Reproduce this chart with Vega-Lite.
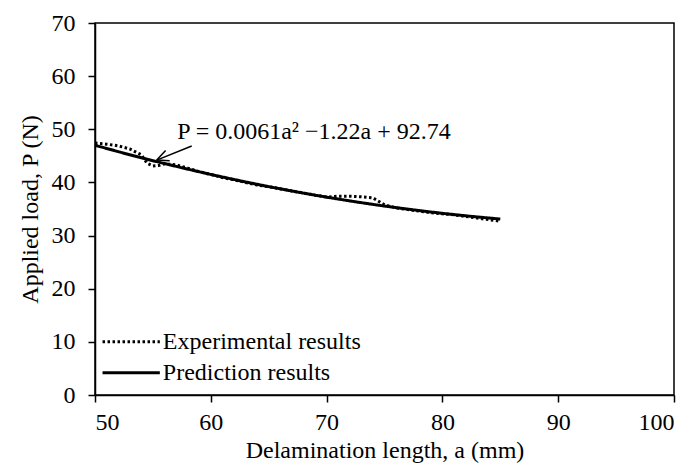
{
  "$schema": "https://vega.github.io/schema/vega-lite/v6.json",
  "width": 579,
  "height": 372,
  "autosize": "none",
  "padding": {"left": 95, "top": 23, "right": 18, "bottom": 71},
  "background": "white",
  "config": {
    "font": "Liberation Serif",
    "view": {"stroke": "black", "strokeWidth": 1.5},
    "axis": {
      "domainColor": "black", "domainWidth": 1.5, "tickColor": "black", "tickWidth": 1.5,
      "tickSize": 7, "grid": false, "labelFont": "Liberation Serif", "labelFontSize": 24,
      "labelColor": "black", "titleFont": "Liberation Serif", "titleFontSize": 24,
      "titleFontWeight": "normal", "titleColor": "black"
    }
  },
  "datasets": {
    "curves": [
      {"a": 50, "P": 47.4, "series": "Experimental results"},
      {"a": 51, "P": 47.2, "series": "Experimental results"},
      {"a": 52, "P": 46.9, "series": "Experimental results"},
      {"a": 53, "P": 46.3, "series": "Experimental results"},
      {"a": 54, "P": 45.2, "series": "Experimental results"},
      {"a": 54.5, "P": 43.6, "series": "Experimental results"},
      {"a": 55, "P": 43.1, "series": "Experimental results"},
      {"a": 55.5, "P": 43.2, "series": "Experimental results"},
      {"a": 56, "P": 43.5, "series": "Experimental results"},
      {"a": 57, "P": 43.3, "series": "Experimental results"},
      {"a": 58, "P": 42.7, "series": "Experimental results"},
      {"a": 59, "P": 42.0, "series": "Experimental results"},
      {"a": 60, "P": 41.5, "series": "Experimental results"},
      {"a": 61, "P": 40.9, "series": "Experimental results"},
      {"a": 62, "P": 40.5, "series": "Experimental results"},
      {"a": 63, "P": 40.0, "series": "Experimental results"},
      {"a": 64, "P": 39.5, "series": "Experimental results"},
      {"a": 65, "P": 39.2, "series": "Experimental results"},
      {"a": 66, "P": 38.8, "series": "Experimental results"},
      {"a": 67, "P": 38.4, "series": "Experimental results"},
      {"a": 68, "P": 38.0, "series": "Experimental results"},
      {"a": 69, "P": 37.6, "series": "Experimental results"},
      {"a": 70, "P": 37.25, "series": "Experimental results"},
      {"a": 71, "P": 37.4, "series": "Experimental results"},
      {"a": 72, "P": 37.4, "series": "Experimental results"},
      {"a": 73, "P": 37.3, "series": "Experimental results"},
      {"a": 74, "P": 37.1, "series": "Experimental results"},
      {"a": 75, "P": 35.8, "series": "Experimental results"},
      {"a": 76, "P": 35.2, "series": "Experimental results"},
      {"a": 77, "P": 34.9, "series": "Experimental results"},
      {"a": 78, "P": 34.6, "series": "Experimental results"},
      {"a": 79, "P": 34.3, "series": "Experimental results"},
      {"a": 80, "P": 34.1, "series": "Experimental results"},
      {"a": 81, "P": 33.9, "series": "Experimental results"},
      {"a": 82, "P": 33.6, "series": "Experimental results"},
      {"a": 83, "P": 33.3, "series": "Experimental results"},
      {"a": 84, "P": 33.0, "series": "Experimental results"},
      {"a": 85, "P": 32.7, "series": "Experimental results"},
      {"a": 50, "P": 46.99, "series": "Prediction results"},
      {"a": 52.5, "P": 45.5, "series": "Prediction results"},
      {"a": 55, "P": 44.09, "series": "Prediction results"},
      {"a": 57.5, "P": 42.76, "series": "Prediction results"},
      {"a": 60, "P": 41.5, "series": "Prediction results"},
      {"a": 62.5, "P": 40.32, "series": "Prediction results"},
      {"a": 65, "P": 39.21, "series": "Prediction results"},
      {"a": 67.5, "P": 38.18, "series": "Prediction results"},
      {"a": 70, "P": 37.23, "series": "Prediction results"},
      {"a": 72.5, "P": 36.35, "series": "Prediction results"},
      {"a": 75, "P": 35.55, "series": "Prediction results"},
      {"a": 77.5, "P": 34.83, "series": "Prediction results"},
      {"a": 80, "P": 34.18, "series": "Prediction results"},
      {"a": 82.5, "P": 33.61, "series": "Prediction results"},
      {"a": 85, "P": 33.11, "series": "Prediction results"}
    ],
    "legendrows": [
      {"a": 50.65, "a2": 55.6, "P": 10.0, "series": "Experimental results"},
      {"a": 50.65, "a2": 55.6, "P": 4.2, "series": "Prediction results"}
    ],
    "note": [
      {"a": 57.1, "P": 49.5, "label": "P = 0.0061a² −1.22a + 92.74"}
    ],
    "arrow": [
      {"a": 58.35, "P": 46.86, "a2": 55.33, "P2": 44.2},
      {"a": 55.33, "P": 44.2, "a2": 56.45, "P2": 44.09},
      {"a": 55.33, "P": 44.2, "a2": 56.1, "P2": 46.0}
    ]
  },
  "layer": [
    {
      "data": {"name": "curves"},
      "mark": {"type": "line", "strokeWidth": 3, "strokeCap": "butt", "color": "black"},
      "encoding": {
        "x": {"field": "a", "type": "quantitative", "scale": {"domain": [50, 100]},
          "axis": {"values": [50, 60, 70, 80, 90, 100], "labelPadding": 8, "titlePadding": 4},
          "title": "Delamination length, a (mm)"},
        "y": {"field": "P", "type": "quantitative", "scale": {"domain": [0, 70]},
          "axis": {"values": [0, 10, 20, 30, 40, 50, 60, 70], "labelPadding": 13, "titlePadding": 9},
          "title": "Applied load, P (N)"},
        "strokeDash": {"field": "series", "type": "nominal",
          "scale": {"domain": ["Experimental results", "Prediction results"], "range": [[2.5, 2.5], [1, 0]]},
          "legend": null}
      }
    },
    {
      "data": {"name": "legendrows"},
      "mark": {"type": "rule", "strokeWidth": 3, "strokeCap": "butt", "color": "black"},
      "encoding": {
        "x": {"field": "a", "type": "quantitative"},
        "x2": {"field": "a2"},
        "y": {"field": "P", "type": "quantitative"},
        "strokeDash": {"field": "series", "type": "nominal", "legend": null}
      }
    },
    {
      "data": {"name": "legendrows"},
      "mark": {"type": "text", "align": "left", "baseline": "middle", "dx": 3, "fontSize": 24, "font": "Liberation Serif", "color": "black"},
      "encoding": {
        "x": {"field": "a2", "type": "quantitative"},
        "y": {"field": "P", "type": "quantitative"},
        "text": {"field": "series"}
      }
    },
    {
      "data": {"name": "note"},
      "mark": {"type": "text", "align": "left", "baseline": "middle", "fontSize": 24, "font": "Liberation Serif", "color": "black"},
      "encoding": {
        "x": {"field": "a", "type": "quantitative"},
        "y": {"field": "P", "type": "quantitative"},
        "text": {"field": "label"}
      }
    },
    {
      "data": {"name": "arrow"},
      "mark": {"type": "rule", "strokeWidth": 1.5, "color": "black"},
      "encoding": {
        "x": {"field": "a", "type": "quantitative"},
        "y": {"field": "P", "type": "quantitative"},
        "x2": {"field": "a2"},
        "y2": {"field": "P2"}
      }
    }
  ]
}
